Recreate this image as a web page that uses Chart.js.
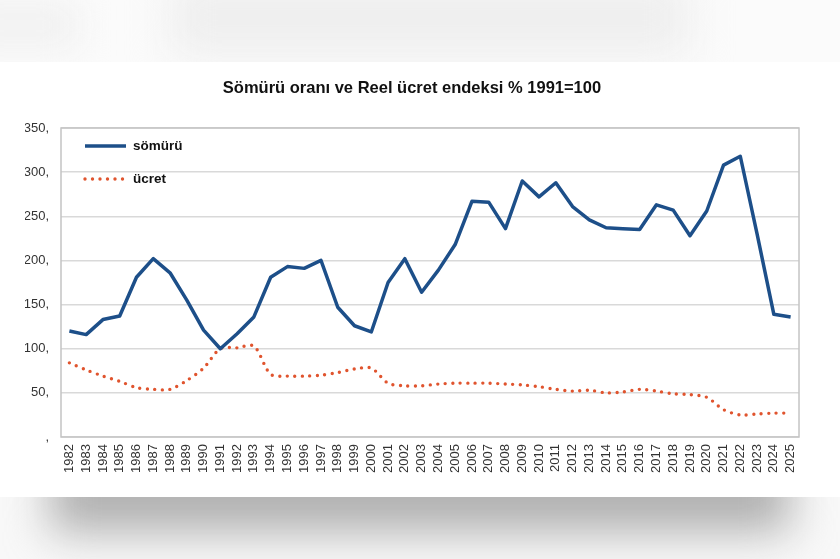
<!DOCTYPE html>
<html>
<head>
<meta charset="utf-8">
<script src="https://cdn.jsdelivr.net/npm/chart.js@4/dist/chart.umd.min.js"></script>
<style>
  html, body { margin: 0; padding: 0; width: 840px; height: 559px; overflow: hidden; background: #ffffff; }
  #wrap { position: relative; width: 840px; height: 559px; }
  #topband { position: absolute; left: 0; top: 0; width: 840px; height: 62px; background: #fbfbfb; overflow: hidden; }
  #topblob { position: absolute; left: 170px; top: -20px; width: 520px; height: 75px; background: #eeeeee; filter: blur(22px); }
  #topblob2 { position: absolute; left: -40px; top: 0px; width: 120px; height: 50px; background: #f1f1f1; filter: blur(18px); }
  #botband { position: absolute; left: 0; top: 497px; width: 840px; height: 62px; background: #f8f8f8; overflow: hidden; }
  #botshadow { position: absolute; left: 50px; top: -40px; width: 740px; height: 75px; background: #b0b0b0; filter: blur(22px); }
  canvas { position: absolute; left: 0; top: 0; }
</style>
</head>
<body>
<div id="wrap">
  <div id="topband"><div id="topblob"></div><div id="topblob2"></div></div>
  <div id="botband"><div id="botshadow"></div></div>
  <canvas id="c" width="840" height="559"></canvas>
</div>
<script>
const years = ["1982","1983","1984","1985","1986","1987","1988","1989","1990","1991","1992","1993","1994","1995","1996","1997","1998","1999","2000","2001","2002","2003","2004","2005","2006","2007","2008","2009","2010","2011","2012","2013","2014","2015","2016","2017","2018","2019","2020","2021","2022","2023","2024","2025"];
const somuru = [120,116,133,137,181,202,186,155,121,100,117,136,181,193,191,200,147,126,119,175,202,164,189,218,267,266,236,290,272,288,261,246,237,236,235,263,257,228,256,308,318,230,139,136];
const ucret = [84,76,69,63,56,54,54,64,78,100,101,103,71,69,69,70,73,77,78,61,58,58,60,61,61,61,60,59,57,54,52,53,50,51,54,52,49,48,45,31,25,26,27,27];
const yTicks = [0,50,100,150,200,250,300,350];
const titleText = "Sömürü oranı ve Reel ücret endeksi % 1991=100";
const seriesNames = ["sömürü","ücret"];

const FONT = "'Liberation Sans', Arial, sans-serif";

const innerLegend = {
  id: 'innerLegend',
  afterDatasetsDraw(chart) {
    const ctx = chart.ctx;
    const a = chart.chartArea;
    const x0 = a.left + 24, x1 = a.left + 65;
    const rows = [a.top + 18, a.top + 51];
    chart.data.datasets.forEach((ds, i) => {
      const y = rows[i];
      ctx.save();
      ctx.strokeStyle = ds.borderColor;
      ctx.lineWidth = ds.borderWidth;
      ctx.lineCap = ds.borderCapStyle || 'butt';
      ctx.setLineDash(ds.borderDash || []);
      ctx.beginPath();
      ctx.moveTo(x0, y);
      ctx.lineTo(x1, y);
      ctx.stroke();
      ctx.setLineDash([]);
      ctx.fillStyle = '#111';
      ctx.font = "bold 13.5px " + FONT;
      ctx.textBaseline = 'middle';
      ctx.textAlign = 'left';
      ctx.fillText(ds.label, x1 + 7, y);
      ctx.restore();
    });
  }
};

const plotBorder = {
  id: 'plotBorder',
  afterDraw(chart) {
    const ctx = chart.ctx, a = chart.chartArea;
    ctx.save();
    ctx.strokeStyle = '#c4c4c4';
    ctx.lineWidth = 1.5;
    ctx.strokeRect(a.left, a.top, a.right - a.left, a.bottom - a.top);
    ctx.restore();
  }
};

new Chart(document.getElementById('c'), {
  type: 'line',
  data: {
    labels: years,
    datasets: [
      { label: seriesNames[0], data: somuru, borderColor: '#1d4f89', borderWidth: 3.5, pointRadius: 0, tension: 0, borderJoinStyle: 'round' },
      { label: seriesNames[1], data: ucret, borderColor: '#e0542e', borderWidth: 3.4, borderDash: [0, 7.5], borderCapStyle: 'round', pointRadius: 0, tension: 0.3 }
    ]
  },
  options: {
    responsive: false,
    animation: false,
    layout: { padding: { left: 25, right: 41, top: 0, bottom: 0 } },
    plugins: {
      legend: { display: false },
      tooltip: { enabled: false },
      title: {
        display: true,
        text: titleText,
        color: '#111',
        font: { family: FONT, size: 16.5, weight: 'bold', lineHeight: 1.2 },
        padding: { top: 79, bottom: 29.2 }
      }
    },
    scales: {
      x: {
        offset: true,
        grid: { display: false, drawTicks: false },
        border: { display: false },
        ticks: { autoSkip: false, maxRotation: 90, minRotation: 90, padding: 7, color: '#333', font: { family: FONT, size: 13 } },
        afterFit(s) { s.height = 122; }
      },
      y: {
        min: 0, max: 350,
        afterBuildTicks(s) { s.ticks = yTicks.map(v => ({ value: v })); },
        grid: { color: '#d9d9d9', lineWidth: 1.5, drawTicks: false },
        border: { display: false },
        ticks: { padding: 12, color: '#333', font: { family: FONT, size: 13 }, callback: v => (v === 0 ? ',' : v + ',') },
        afterFit(s) { s.width = 36; }
      }
    }
  },
  plugins: [innerLegend, plotBorder]
});
</script>
</body>
</html>
